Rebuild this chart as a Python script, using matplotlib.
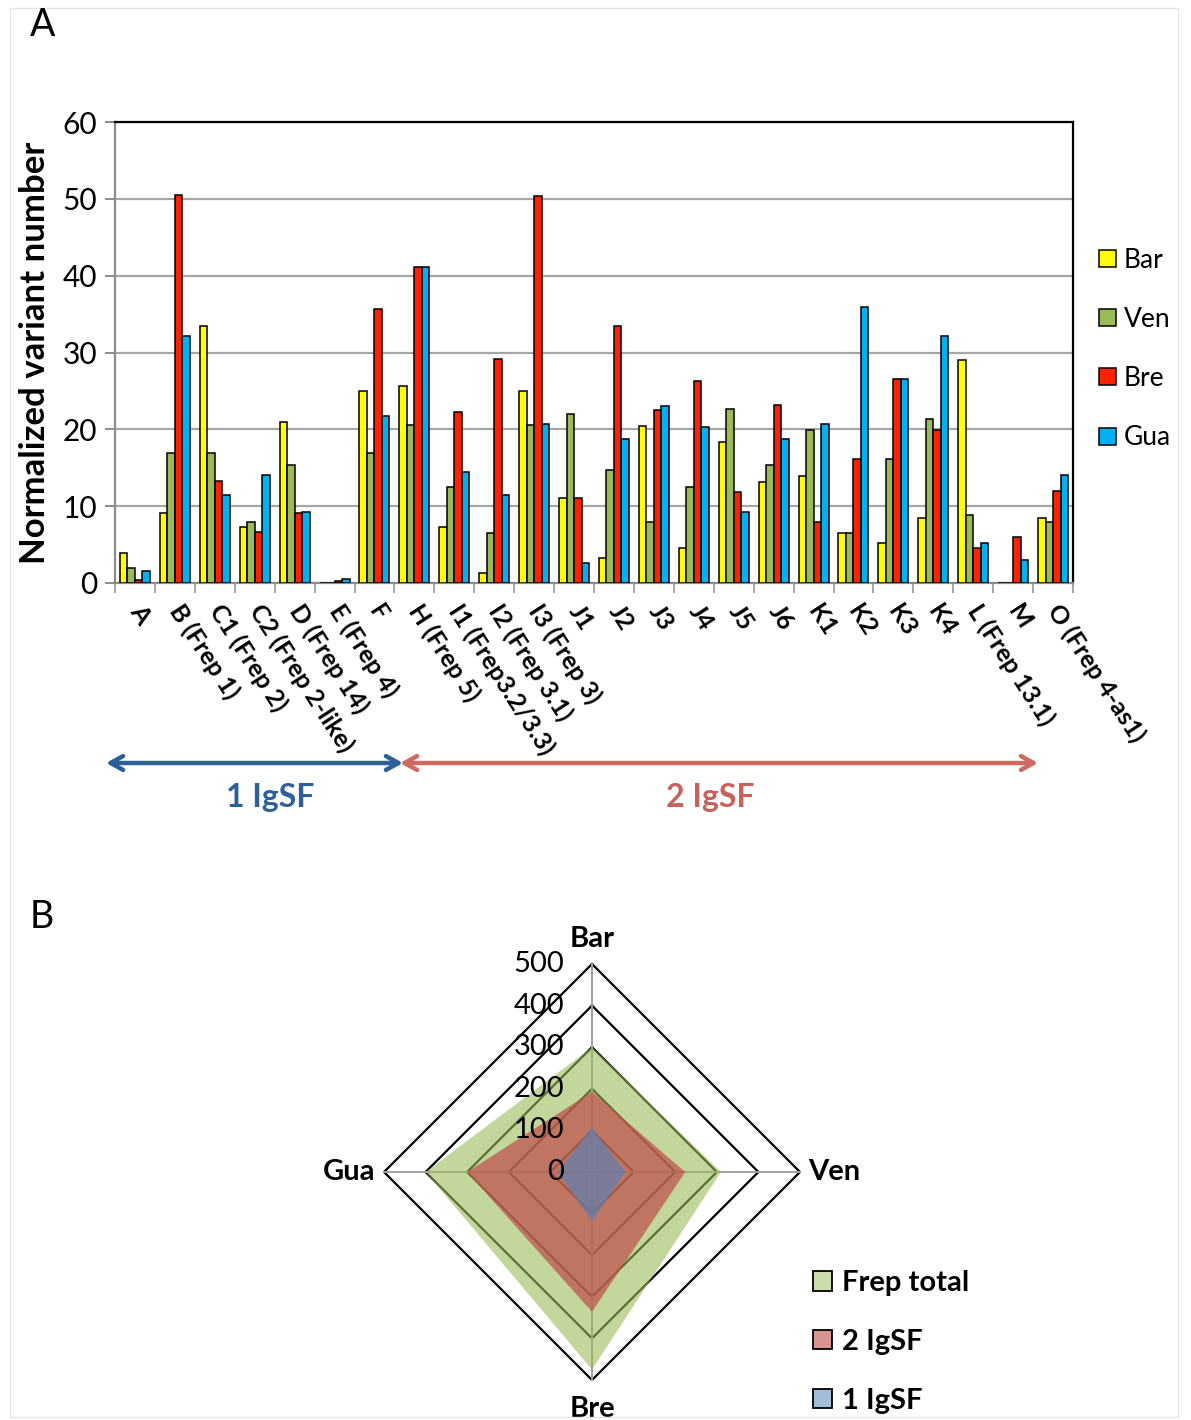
"""Frep variant counts per clade (A) and radar summary per population (B)."""

import numpy as np
import matplotlib.pyplot as plt
from matplotlib.colors import to_rgba
from matplotlib.patches import Patch, Rectangle

plt.rcParams['font.family'] = ['Lato', 'DejaVu Sans']

###################################################################################################
###################################################################################################

categories = ['A', 'B (Frep 1)', 'C1 (Frep 2)', 'C2 (Frep 2-like)', 'D (Frep 14)', 'E (Frep 4)',
              'F', 'H (Frep 5)', 'I1 (Frep3.2/3.3)', 'I2 (Frep 3.1)', 'I3 (Frep 3)', 'J1',
              'J2', 'J3', 'J4', 'J5', 'J6', 'K1', 'K2', 'K3', 'K4', 'L (Frep 13.1)', 'M',
              'O (Frep 4-as1)']

bar_vals = [3.9, 9.1, 33.5, 7.3, 21.0, 0, 25.0, 25.7, 7.3, 1.3, 25.0, 11.1,
            3.2, 20.4, 4.6, 18.4, 13.2, 13.9, 6.5, 5.2, 8.5, 29.0, 0, 8.5]
ven_vals = [2.0, 16.9, 16.9, 8.0, 15.4, 0, 16.9, 20.6, 12.5, 6.5, 20.6, 22.0,
            14.7, 8.0, 12.5, 22.7, 15.4, 19.9, 6.5, 16.1, 21.3, 8.8, 0, 8.0]
bre_vals = [0.4, 50.5, 13.3, 6.7, 9.1, 0.2, 35.6, 41.1, 22.3, 29.1, 50.4, 11.1,
            33.4, 22.5, 26.3, 11.8, 23.2, 7.9, 16.2, 26.6, 19.9, 4.5, 6.0, 12.0]
gua_vals = [1.5, 32.2, 11.4, 14.0, 9.3, 0.5, 21.8, 41.1, 14.5, 11.4, 20.7, 2.6,
            18.7, 23.0, 20.3, 9.3, 18.7, 20.7, 35.9, 26.6, 32.2, 5.2, 3.0, 14.0]

series_names = ['Bar', 'Ven', 'Bre', 'Gua']
series_colors = ['#ffff00', '#9bbb59', '#ff2200', '#00b0f0']

# Radar panel: totals per population
radar_axes = ['Bar', 'Ven', 'Bre', 'Gua']
frep_total = [300, 310, 475, 400]
igsf_2 = [193, 224, 336, 300]
igsf_1 = [107, 80, 119, 82]
radar_rings = [100, 200, 300, 400, 500]

###################################################################################################
###################################################################################################

W, H = 1191, 1420
fig = plt.figure(figsize=(W / 100, H / 100), dpi=100)

def fx(px):
    return px / W

def fy(py):
    return 1 - py / H

# Light frame around the whole figure
fig.patches.append(Rectangle((fx(10), fy(1417)), fx(1168), 1409 / H, transform=fig.transFigure,
                             fill=False, edgecolor='#e6e6e6', linewidth=1.0))

# ---- Panel A: grouped bar chart ----
ax = fig.add_axes([fx(115), fy(583), fx(958), 461 / H])
xs = np.arange(len(categories))
width = 0.1875
for ind, (vals, name, col) in enumerate(zip([bar_vals, ven_vals, bre_vals, gua_vals],
                                             series_names, series_colors)):
    ax.bar(xs + (ind - 1.5) * width, vals, width, color=col, edgecolor='black',
           linewidth=1.1, label=name, zorder=3)

ax.set_xlim(-0.5, len(categories) - 0.5)
ax.set_ylim(0, 60)
ax.set_yticks(range(0, 61, 10))
ax.yaxis.grid(True, color='#a6a6a6', linewidth=1.6, zorder=0)
ax.tick_params(axis='y', labelsize=21.5, length=7, width=1.4, color='#8c8c8c', pad=6)

ax.set_xticks(xs)
ax.set_xticklabels(categories, rotation=-57, ha='left', va='center', rotation_mode='anchor',
                   fontsize=18, fontweight='bold')
ax.set_xticks(np.arange(-0.5, len(categories), 1), minor=True)
ax.tick_params(axis='x', which='major', length=0, pad=17)
ax.tick_params(axis='x', which='minor', length=7, width=1.4, color='#a6a6a6')

for side in ['left', 'bottom']:
    ax.spines[side].set_color('#8c8c8c')
    ax.spines[side].set_linewidth(1.6)
for side in ['top', 'right']:
    ax.spines[side].set_color('black')
    ax.spines[side].set_linewidth(1.6)

ax.set_ylabel('Normalized variant number', fontsize=25, fontweight='bold', labelpad=8)

leg = ax.legend(loc='center left', bbox_to_anchor=(fx(1086), fy(349)),
                bbox_transform=fig.transFigure, frameon=False, fontsize=19, borderpad=0,
                handlelength=0.62, handleheight=0.62, handletextpad=0.3, labelspacing=1.3)

fig.text(fx(30), fy(25), 'A', fontsize=27, va='center', ha='left')

# 1 IgSF / 2 IgSF arrows
arrow_y = fy(763)
ax.annotate('', xy=(fx(106), arrow_y), xytext=(fx(403), arrow_y), xycoords='figure fraction',
            arrowprops=dict(arrowstyle='<->,head_length=0.9,head_width=0.5', color='#2e5f99',
                            linewidth=3.2, shrinkA=0, shrinkB=0))
ax.annotate('', xy=(fx(400), arrow_y), xytext=(fx(1038), arrow_y), xycoords='figure fraction',
            arrowprops=dict(arrowstyle='<->,head_length=0.9,head_width=0.5', color='#cf6a63',
                            linewidth=3.2, shrinkA=0, shrinkB=0))
fig.text(fx(270), fy(797), '1 IgSF', color='#2e5f99', fontsize=23, fontweight='bold',
         ha='center', va='center')
fig.text(fx(710), fy(797), '2 IgSF', color='#c5625c', fontsize=23, fontweight='bold',
         ha='center', va='center')

# ---- Panel B: radar chart ----
cx, cy = 592, 1172
px_per_unit = 0.416
half_w, half_h = 300, 240
rax = fig.add_axes([fx(cx - half_w), fy(cy + half_h), fx(2 * half_w), 2 * half_h / H])
rax.set_xlim(-half_w / px_per_unit, half_w / px_per_unit)
rax.set_ylim(-half_h / px_per_unit, half_h / px_per_unit)
rax.axis('off')

angles = np.linspace(0, 2 * np.pi, len(radar_axes), endpoint=False)
sin_a, cos_a = np.sin(angles), np.cos(angles)

def closed(vals):
    vals = np.asarray(vals, dtype=float)
    x = np.append(vals * sin_a, vals[0] * sin_a[0])
    y = np.append(vals * cos_a, vals[0] * cos_a[0])
    return x, y

for ring in radar_rings:
    rx, ry = closed([ring] * len(radar_axes))
    rax.plot(rx, ry, color='black', linewidth=1.6, zorder=1)
for s, c in zip(sin_a, cos_a):
    rax.plot([0, 500 * s], [0, 500 * c], color='#a0a0a0', linewidth=1.4, zorder=1)

fills = [(frep_total, '#9bbb59', 0.6, 'Frep total'),
         (igsf_2, '#c0504d', 0.72, '2 IgSF'),
         (igsf_1, '#4f81bd', 0.62, '1 IgSF')]
for vals, col, alpha, name in fills:
    rx, ry = closed(vals)
    rax.fill(rx, ry, color=col, alpha=alpha, linewidth=0, zorder=2)

for ring in [0] + radar_rings:
    rax.text(-28 / px_per_unit, ring, str(ring), fontsize=21, ha='right', va='center', zorder=4)

label_pos = {'Bar': (0, 560, 'center', 'center'), 'Ven': (520, 0, 'left', 'center'),
             'Bre': (0, -570, 'center', 'center'), 'Gua': (-520, 0, 'right', 'center')}
for name in radar_axes:
    x, y, ha, va = label_pos[name]
    rax.text(x, y, name, fontsize=21, fontweight='bold', ha=ha, va=va)

# legend patches need an opaque edge, so put the alpha into the face only
leg_handles = []
for vals, col, alpha, name in fills:
    leg_handles.append(Patch(facecolor=to_rgba(col, alpha * 0.85), edgecolor='black',
                             linewidth=1.3, label=name))
fig.legend(handles=leg_handles, loc='center left', bbox_to_anchor=(fx(798), fy(1342)),
           frameon=False, prop={'size': 21, 'weight': 'bold'}, handlelength=0.65, borderpad=0,
           handleheight=0.65, handletextpad=0.35, labelspacing=1.12)

fig.text(fx(30), fy(917), 'B', fontsize=27, va='center', ha='left')

fig.savefig('out.png', dpi=100)
